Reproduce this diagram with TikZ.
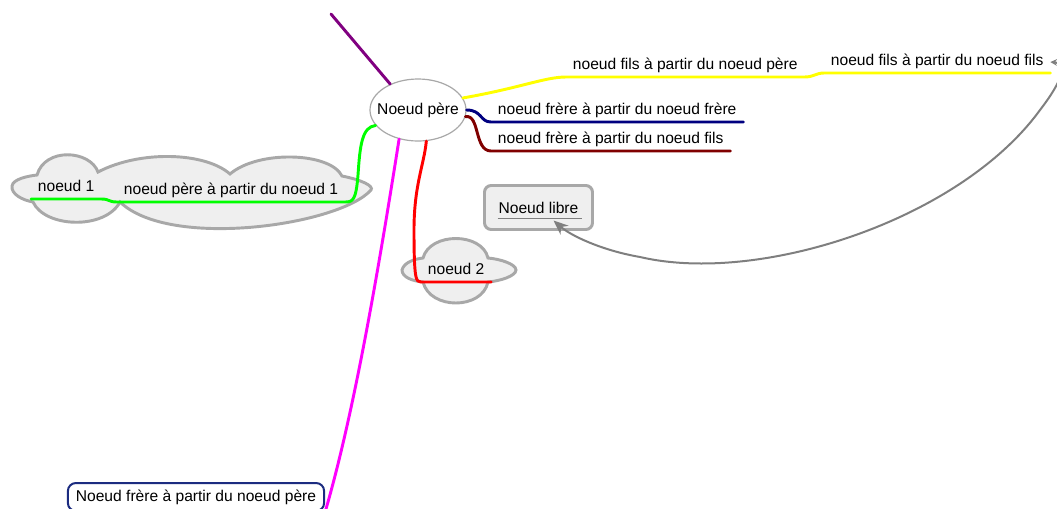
\documentclass[tikz,border=0pt]{standalone}
\usepackage{fontspec}
\setmainfont{Liberation Sans}
\usetikzlibrary{arrows.meta,shapes.geometric}
\definecolor{cloudfill}{HTML}{EFEFEF}
\definecolor{cloudline}{HTML}{A8A8A8}
\definecolor{linkgray}{HTML}{7F7F7F}
\definecolor{boxnavy}{HTML}{1C2C80}
\definecolor{navyline}{HTML}{000080}
\definecolor{maroonline}{HTML}{800000}
\definecolor{purpleline}{HTML}{800080}
\definecolor{yellowline}{HTML}{FFFF00}
\definecolor{greenline}{HTML}{00FF00}
\definecolor{magentaline}{HTML}{FF00FF}

\begin{document}
\begin{tikzpicture}[x=0.75pt, y=-0.75pt, font=\fontsize{11.7}{14}\selectfont,
	branch/.style={line width=2.2pt, line cap=round, line join=round},
	txt/.style={anchor=south west, inner xsep=5pt, inner ysep=2.2pt, text depth=3pt},
	cloudy/.style={fill=cloudfill, draw=cloudline, line width=2.2pt}]
	\useasboundingbox (0,0) rectangle (1057,508);

	\draw[cloudy] (12,186) .. controls (13,179) and (28,176) .. (37,175)
		.. controls (45,147) and (90,150) .. (98,172)
		.. controls (140,150) and (205,152) .. (230,174)
		.. controls (258,150) and (330,152) .. (342,176)
		.. controls (362,180) and (374,186) .. (371,190)
		.. controls (340,225) and (170,250) .. (120,202)
		.. controls (105,230) and (45,228) .. (33,202)
		.. controls (22,200) and (11,194) .. (12,186) -- cycle;
	\draw[cloudy] (402,270) .. controls (404,262) and (415,259) .. (423,258)
		.. controls (430,232) and (482,232) .. (488,258)
		.. controls (500,259) and (516,264) .. (516,270)
		.. controls (516,276) and (500,281) .. (488,282)
		.. controls (482,310) and (430,310) .. (423,282)
		.. controls (412,281) and (402,277) .. (402,270) -- cycle;

	\node (pere) [ellipse, draw=cloudline, fill=white, line width=0.9pt, inner sep=0pt, minimum width=72pt, minimum height=46.5pt] at (418,110) {\makebox[20pt]{Noeud père}};
	\node (fils1) [txt] at (566,77) {noeud fils à partir du noeud père};
	\node (fils2) [txt] at (824,73) {noeud fils à partir du noeud fils};
	\node (frere1) [txt] at (491,122) {noeud frère à partir du noeud frère};
	\node (frere2) [txt] at (491,151) {noeud frère à partir du noeud fils};
	\node (n1) [txt] at (31,199) {noeud 1};
	\node (pere1) [txt] at (117,202) {noeud père à partir du noeud 1};
	\node (n2) [txt] at (421,282) {noeud 2};
	\node (libre) [draw=cloudline, fill=cloudfill, line width=2.2pt, rounded corners=5pt, minimum width=81pt, minimum height=33pt] at (538.5,207.5) {Noeud libre};
	\node (frerepere) [draw=boxnavy, fill=white, line width=1.5pt, rounded corners=6pt, minimum height=21pt, inner xsep=6pt] at (196,497) {Noeud frère à partir du noeud père};
	\coordinate (haut) at (331,14);

	\draw[linkgray, line width=0.8pt] ([shift={(-41,11)}]libre.center) -- ([shift={(43,11)}]libre.center);

	\draw[branch, purpleline] (pere.137) -- (haut);
	\draw[branch, yellowline] (pere.15) .. controls (520,88) and (545,77) .. (fils1.south west) -- (fils1.south east)
		.. controls (814,77) and (816,73) .. (fils2.south west) -- (fils2.south east);
	\draw[branch, navyline] (pere.0) .. controls (482,110) and (480,122) .. (frere1.south west) -- (frere1.south east);
	\draw[branch, maroonline] (pere.-8) .. controls (480,114) and (474,151) .. (frere2.south west) -- (frere2.south east);
	\draw[branch, greenline] (pere.200) .. controls (362,127) and (360,145) .. (358,175)
		.. controls (356,200) and (353,202) .. (pere1.south east) -- (pere1.south west)
		.. controls (108,202) and (110,199) .. (n1.south east) -- (n1.south west);
	\draw[branch, red] (pere.-75) .. controls (424,165) and (414,185) .. (414,230)
		.. controls (414,280) and (416,282) .. (n2.south west) -- (n2.south east);
	\draw[branch, magentaline] (pere.237) .. controls (380,260) and (355,410) .. (frerepere.south east);

	\draw[linkgray, line width=1.5pt, {Stealth[length=5pt,width=5pt]}-{Stealth[length=11pt,width=9pt]}] (fils2.east)
		.. controls (1068,63) and (1063,80) .. (1040,110)
		.. controls (960,220) and (760,285) .. (640,257)
		.. controls (600,250) and (570,235) .. ([shift={(15,13)}]libre.center);
\end{tikzpicture}
\end{document}
